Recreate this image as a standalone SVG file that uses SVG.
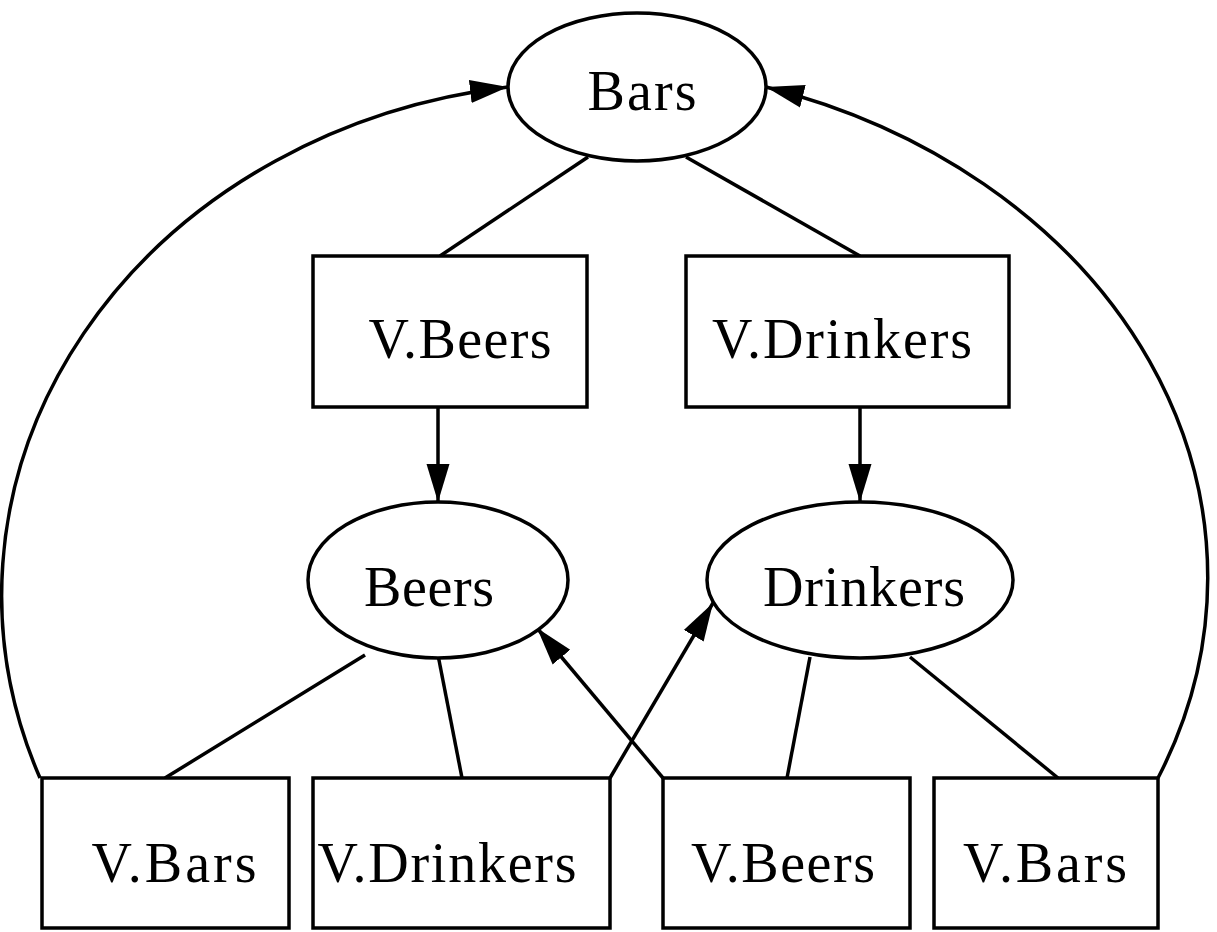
<svg xmlns="http://www.w3.org/2000/svg" width="1217" height="932" viewBox="0 0 1217 932">
<style>
.n{fill:#fff;stroke:#000;stroke-width:3.5}
.t{font-family:"Liberation Serif","DejaVu Serif",serif;font-size:56px;fill:#000;text-anchor:middle}
.e{fill:none;stroke:#000;stroke-width:3.5}
</style>
<defs>
<marker id="ah" markerUnits="userSpaceOnUse" markerWidth="42" markerHeight="28" refX="38" refY="14" orient="auto">
<path d="M0,2.5 L38,14 L0,25.5 Z" fill="#000"/>
</marker>
</defs>
<rect width="1217" height="932" fill="#fff"/>
<g id="connectors">
<line class="e" x1="588" y1="157" x2="440" y2="256"/>
<line class="e" x1="686" y1="157" x2="860" y2="256"/>
<line class="e" x1="438" y1="407" x2="438" y2="502" marker-end="url(#ah)"/>
<line class="e" x1="860" y1="407" x2="860" y2="502" marker-end="url(#ah)"/>
<line class="e" x1="365" y1="655" x2="165" y2="778"/>
<line class="e" x1="438" y1="655" x2="462" y2="778"/>
<line class="e" x1="663" y1="778" x2="537" y2="628" marker-end="url(#ah)"/>
<line class="e" x1="610" y1="778" x2="713" y2="603" marker-end="url(#ah)"/>
<line class="e" x1="810" y1="657" x2="787" y2="778"/>
<line class="e" x1="910" y1="657" x2="1058" y2="778"/>
<path class="e" d="M40,778 A585,513 0 0 1 508,87" marker-end="url(#ah)"/>
<path class="e" d="M1158,778 A625,513 0 0 0 766,87" marker-end="url(#ah)"/>
</g>
<g id="bars"><ellipse class="n" cx="637" cy="87" rx="129" ry="74"/><text class="t" x="642" y="110" textLength="109">Bars</text></g>
<g id="vbeers1"><rect class="n" x="313" y="256" width="274" height="151"/><text class="t" x="460" y="358" textLength="183">V.Beers</text></g>
<g id="vdrinkers1"><rect class="n" x="686" y="256" width="323" height="151"/><text class="t" x="842" y="358" textLength="260">V.Drinkers</text></g>
<g id="beers"><ellipse class="n" cx="438" cy="580" rx="130" ry="78"/><text class="t" x="429" y="606" textLength="130">Beers</text></g>
<g id="drinkers"><ellipse class="n" cx="860" cy="580" rx="153" ry="78"/><text class="t" x="864" y="606" textLength="202">Drinkers</text></g>
<g id="vbars2"><rect class="n" x="42" y="778" width="247" height="150"/><text class="t" x="174" y="882" textLength="165">V.Bars</text></g>
<g id="vdrinkers2"><rect class="n" x="313" y="778" width="297" height="150"/><text class="t" x="447" y="882" textLength="259">V.Drinkers</text></g>
<g id="vbeers2"><rect class="n" x="663" y="778" width="247" height="150"/><text class="t" x="783" y="882" textLength="184">V.Beers</text></g>
<g id="vbars3"><rect class="n" x="934" y="778" width="224" height="150"/><text class="t" x="1045" y="882" textLength="164">V.Bars</text></g>
</svg>
